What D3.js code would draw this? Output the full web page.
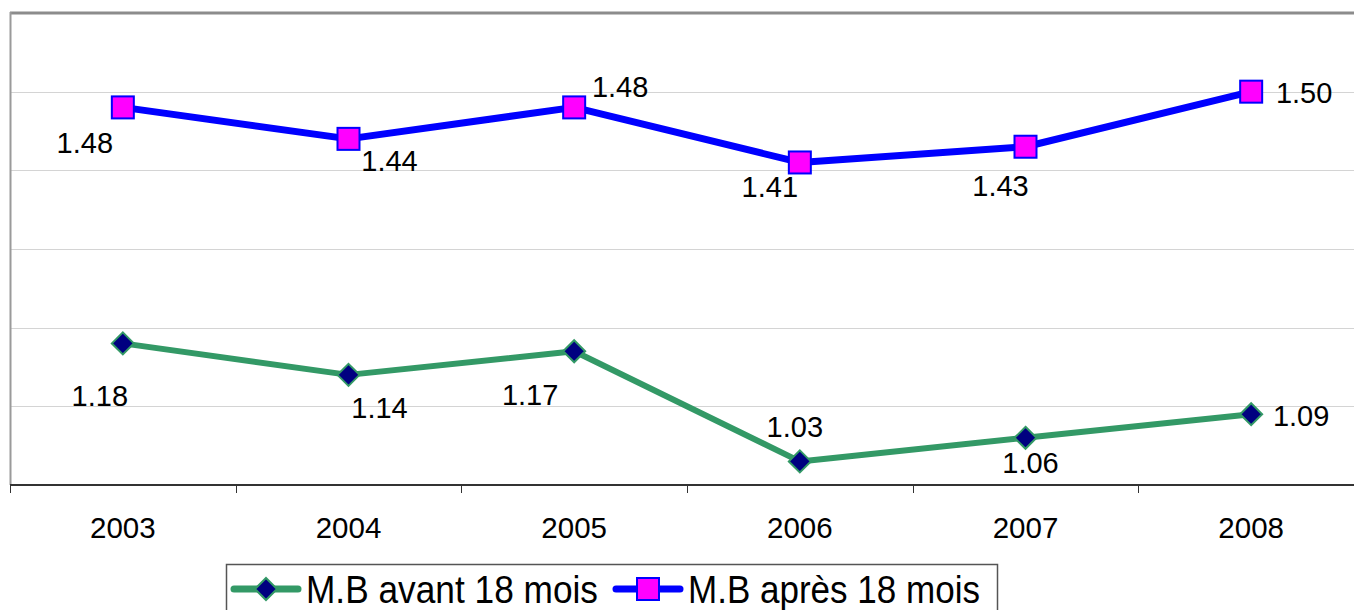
<!DOCTYPE html>
<html>
<head>
<meta charset="utf-8">
<script src="https://cdn.jsdelivr.net/npm/d3@7/dist/d3.min.js"></script>
<style>
  body { margin: 0; background: #fff; }
  svg { display: block; font-family: "Liberation Sans", Arial, sans-serif; }
</style>
</head>
<body>
<svg id="chart"></svg>
<script>
var years = ["2003", "2004", "2005", "2006", "2007", "2008"]
var avant = [1.18, 1.14, 1.17, 1.03, 1.06, 1.09]
var apres = [1.48, 1.44, 1.48, 1.41, 1.43, 1.50]
var yTicks = [1.0, 1.1, 1.2, 1.3, 1.4, 1.5, 1.6]

// where each data label sits relative to its point (label centre)
var avantLabelPos = [[-23, 52], [31, 33], [-44, 43], [-5, -35], [5, 25], [50, 1]]
var apresLabelPos = [[-38, 35], [41, 22], [46, -21], [-30, 24], [-25, 39], [53, 1]]

var width = 1354, height = 610
var svg = d3.select('#chart')
	.attr('width', width)
	.attr('height', height)

var x = d3.scaleBand()
	.domain(years)
	.range([10, 1364])
var y = d3.scaleLinear()
	.domain([1.0, 1.6])
	.range([485, 13])

// gridlines
svg.append('g')
	.selectAll('line')
	.data(yTicks.slice(1, -1))
	.enter()
	.append('line')
	.attr('x1', 10)
	.attr('x2', width)
	.attr('y1', function(d) { return Math.round(y(d)) + 0.5 })
	.attr('y2', function(d) { return Math.round(y(d)) + 0.5 })
	.attr('stroke', '#d4d4d4')
	.attr('stroke-width', 1)

// plot border (top + left)
svg.append('line')
	.attr('x1', 10).attr('x2', width)
	.attr('y1', 13).attr('y2', 13)
	.attr('stroke', '#8c8c8c').attr('stroke-width', 3)
svg.append('line')
	.attr('x1', 10.5).attr('x2', 10.5)
	.attr('y1', 12).attr('y2', 485)
	.attr('stroke', '#9a9a9a').attr('stroke-width', 2)

// x axis
var xAxis = svg.append('g')
	.attr('transform', 'translate(0,485)')
xAxis.append('line')
	.attr('x1', 10).attr('x2', width)
	.attr('y1', 0).attr('y2', 0)
	.attr('stroke', '#333').attr('stroke-width', 2)
xAxis.selectAll('.tick')
	.data(years.map(function(d) { return x(d) }).concat([1364]))
	.enter()
	.append('line')
	.attr('x1', function(d) { return Math.round(d) + 0.5 })
	.attr('x2', function(d) { return Math.round(d) + 0.5 })
	.attr('y1', 0).attr('y2', 8)
	.attr('stroke', '#333').attr('stroke-width', 1)
xAxis.selectAll('text')
	.data(years)
	.enter()
	.append('text')
	.attr('x', function(d) { return x(d) + x.bandwidth() / 2 })
	.attr('y', 53)
	.attr('text-anchor', 'middle')
	.attr('font-size', 29.5)
	.attr('fill', '#000')
	.text(function(d) { return d })

function cx(i) { return x(years[i]) + x.bandwidth() / 2 }

var line = d3.line()
	.x(function(d, i) { return cx(i) })
	.y(function(d) { return y(d) })

// series lines
svg.append('path')
	.datum(avant)
	.attr('d', line)
	.attr('fill', 'none')
	.attr('stroke', '#339966')
	.attr('stroke-width', 6)
	.attr('stroke-linejoin', 'round')
svg.append('path')
	.datum(apres)
	.attr('d', line)
	.attr('fill', 'none')
	.attr('stroke', '#0000ff')
	.attr('stroke-width', 7)
	.attr('stroke-linejoin', 'round')

// markers
var diamond = 'M0,-11L11,0L0,11L-11,0Z'
svg.append('g')
	.selectAll('path')
	.data(avant)
	.enter()
	.append('path')
	.attr('d', diamond)
	.attr('transform', function(d, i) { return 'translate(' + cx(i) + ',' + y(d) + ')' })
	.attr('fill', '#000080')
	.attr('stroke', '#339966')
	.attr('stroke-width', 2)
svg.append('g')
	.selectAll('rect')
	.data(apres)
	.enter()
	.append('rect')
	.attr('x', function(d, i) { return cx(i) - 11 })
	.attr('y', function(d) { return y(d) - 11 })
	.attr('width', 22)
	.attr('height', 22)
	.attr('fill', '#ff00ff')
	.attr('stroke', '#0000ff')
	.attr('stroke-width', 2)

// data labels
function addLabels(values, pos) {
	svg.append('g')
		.selectAll('text')
		.data(values)
		.enter()
		.append('text')
		.attr('x', function(d, i) { return cx(i) + pos[i][0] })
		.attr('y', function(d, i) { return y(d) + pos[i][1] })
		.attr('dy', '0.36em')
		.attr('text-anchor', 'middle')
		.attr('font-size', 29)
		.attr('fill', '#000')
		.text(function(d) { return d3.format('.2f')(d) })
}
addLabels(avant, avantLabelPos)
addLabels(apres, apresLabelPos)

// legend
var legend = svg.append('g')
legend.append('rect')
	.attr('x', 226.5).attr('y', 564.5)
	.attr('width', 771).attr('height', 60)
	.attr('fill', '#fff')
	.attr('stroke', '#555')
	.attr('stroke-width', 1.5)

var items = [
	{ label: 'M.B avant 18 mois', x: 234, color: '#339966', fill: '#000080', shape: 'diamond' },
	{ label: 'M.B après 18 mois', x: 616, color: '#0000ff', fill: '#ff00ff', shape: 'square' }
]
items.forEach(function(it) {
	var g = legend.append('g').attr('transform', 'translate(' + it.x + ',589)')
	g.append('line')
		.attr('x1', 0).attr('x2', 64)
		.attr('stroke', it.color)
		.attr('stroke-width', 7)
		.attr('stroke-linecap', 'round')
	if (it.shape === 'diamond') {
		g.append('path')
			.attr('d', diamond)
			.attr('transform', 'translate(32,0)')
			.attr('fill', it.fill)
			.attr('stroke', it.color)
			.attr('stroke-width', 2)
	} else {
		g.append('rect')
			.attr('x', 21).attr('y', -11)
			.attr('width', 22).attr('height', 22)
			.attr('fill', it.fill)
			.attr('stroke', it.color)
			.attr('stroke-width', 2)
	}
	g.append('text')
		.attr('x', 72)
		.attr('y', 14)
		.attr('font-size', 38)
		.attr('textLength', 292)
		.attr('lengthAdjust', 'spacingAndGlyphs')
		.attr('fill', '#000')
		.text(it.label)
})
</script>
</body>
</html>
